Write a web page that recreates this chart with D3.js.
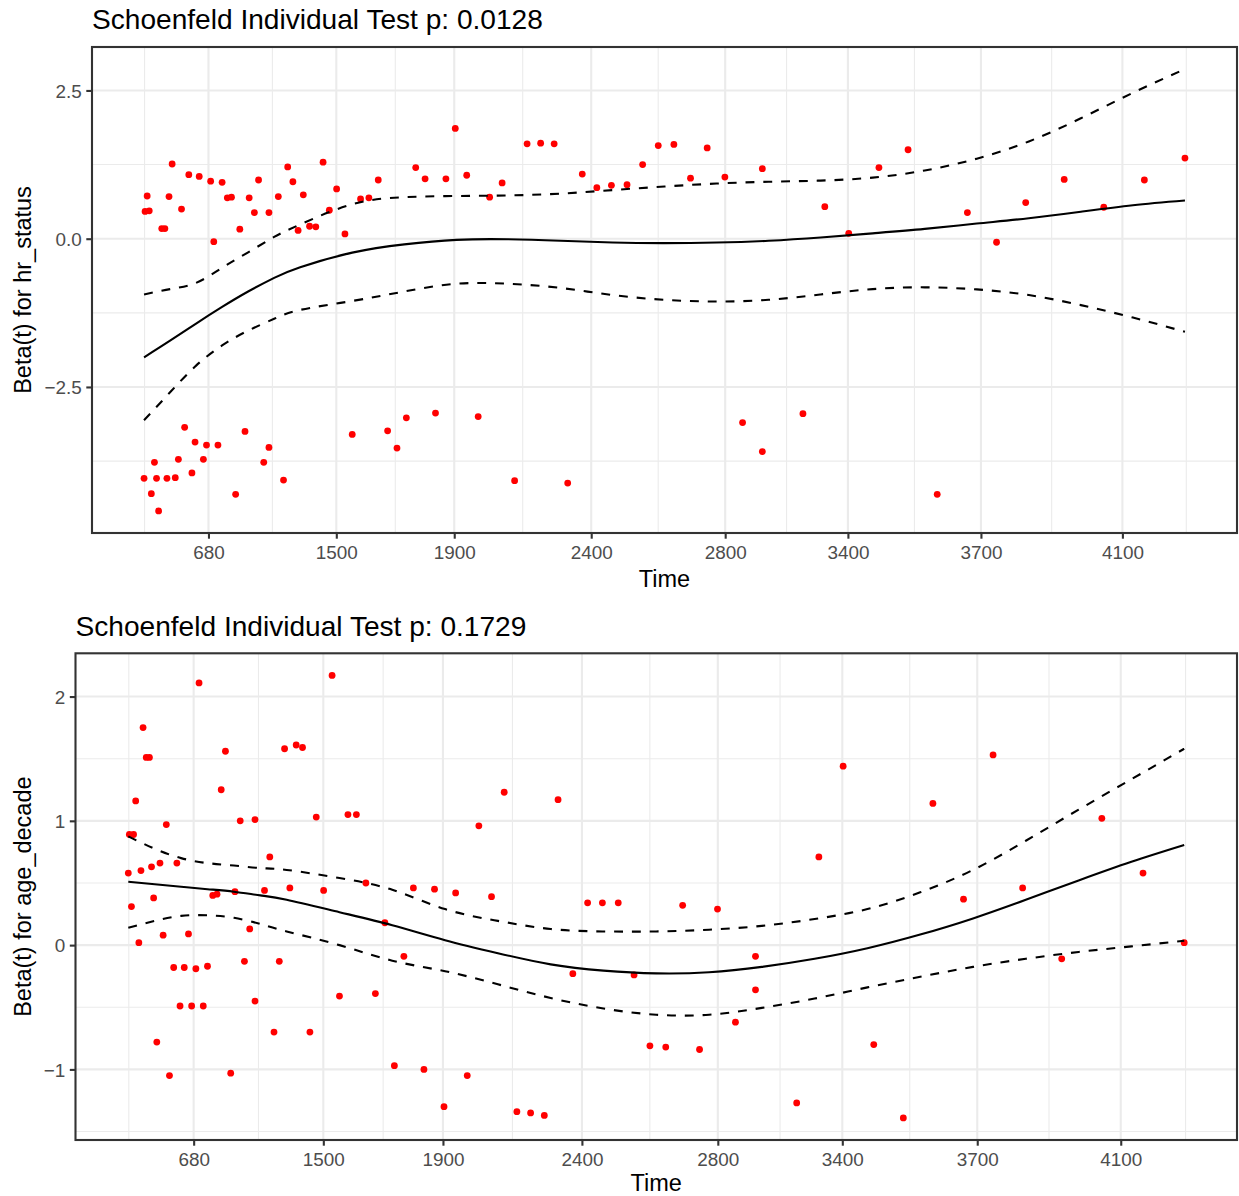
<!DOCTYPE html>
<html>
<head>
<meta charset="utf-8">
<script src="https://cdn.jsdelivr.net/npm/d3@7"></script>
<style>
  body { margin: 0; background: #ffffff; }
  svg { display: block; }
  text { font-family: "Liberation Sans", Arial, Helvetica, sans-serif; }
</style>
</head>
<body>
<svg id="chart" width="1239" height="1196"></svg>
<script>
// ---------------- DATA ----------------
// Event times on the transformed (KM) time scale, one per event, shared by both covariates
const eventTime = [
  0.000, 0.001, 0.003, 0.005, 0.007, 0.010, 0.012, 0.014, 0.017, 0.020,
  0.022, 0.024, 0.027, 0.030, 0.033, 0.036, 0.039, 0.043, 0.046, 0.049,
  0.053, 0.057, 0.060, 0.064, 0.067, 0.071, 0.075, 0.080, 0.084, 0.088,
  0.092, 0.097, 0.101, 0.106, 0.110, 0.115, 0.120, 0.120, 0.129, 0.134,
  0.138, 0.143, 0.148, 0.153, 0.159, 0.165, 0.172, 0.178, 0.185, 0.193,
  0.200, 0.208, 0.216, 0.225, 0.234, 0.243, 0.252, 0.261, 0.270, 0.280,
  0.290, 0.299, 0.310, 0.321, 0.332, 0.344, 0.356, 0.368, 0.381, 0.394,
  0.407, 0.421, 0.435, 0.449, 0.464, 0.479, 0.494, 0.509, 0.525, 0.541,
  0.558, 0.575, 0.594, 0.594, 0.633, 0.654, 0.677, 0.706, 0.734, 0.762,
  0.791, 0.819, 0.847, 0.884, 0.922, 0.961, 1.000
];

// Scaled Schoenfeld residuals, hr_status
const hrStatusResid = [
  -4.04, 0.46, 0.72, 0.47, -4.30, -3.77, -4.04, -4.59, 0.17, 0.17,
  -4.04, 0.71, 1.26, -4.03, -3.72, 0.50, -3.18, 1.08, -3.95, -3.43,
  1.05, -3.72, -3.48, 0.97, -0.05, -3.48, 0.95, 0.69, 0.70, -4.31,
  0.16, -3.25, 0.69, 0.44, 0.99, -3.77, 0.44, -3.52, 0.71, -4.07,
  1.21, 0.96, 0.14, 0.74, 0.21, 0.20, 1.29, 0.48, 0.84, 0.08,
  -3.30, 0.67, 0.69, 0.99, -3.24, -3.53, -3.02, 1.20, 1.01, -2.94,
  1.01, 1.86, 1.07, -3.00, 0.70, 0.94, -4.08, 1.60, 1.61, 1.60,
  -4.12, 1.09, 0.86, 0.90, 0.91, 1.25, 1.57, 1.59, 1.02, 1.53,
  1.04, -3.10, 1.18, -3.59, -2.95, 0.54, 0.09, 1.20, 1.50, -4.31,
  0.44, -0.06, 0.61, 1.00, 0.53, 0.99, 1.36
];

// Scaled Schoenfeld residuals, age_decade
const ageDecadeResid = [
  0.58, 0.89, 0.31, 0.89, 1.16, 0.02, 0.60, 1.75, 1.51, 1.51,
  0.63, 0.38, -0.78, 0.66, 0.08, 0.97, -1.05, -0.18, 0.66, -0.49,
  -0.18, 0.09, -0.49, -0.19, 2.11, -0.49, -0.17, 0.40, 0.41, 1.25,
  1.56, -1.03, 0.43, 1.00, -0.13, 0.13, 1.01, -0.45, 0.44, 0.71,
  -0.70, -0.13, 1.58, 0.46, 1.61, 1.59, -0.70, 1.03, 0.44, 2.17,
  -0.41, 1.05, 1.05, 0.50, -0.39, 0.18, -0.97, -0.09, 0.46, -1.00,
  0.45, -1.30, 0.42, -1.05, 0.96, 0.39, 1.23, -1.34, -1.35, -1.37,
  1.17, -0.23, 0.34, 0.34, 0.34, -0.24, -0.81, -0.82, 0.32, -0.84,
  0.29, -0.62, -0.09, -0.36, -1.27, 0.71, 1.44, -0.80, -1.39, 1.14,
  0.37, 1.53, 0.46, -0.11, 1.02, 0.58, 0.02
];

// Smoothed Beta(t) and its confidence band, read at these transformed times
const smoothTime = [0, 0.025, 0.05, 0.075, 0.1, 0.125, 0.15, 0.2, 0.25, 0.3, 0.35, 0.4,
                    0.45, 0.5, 0.55, 0.6, 0.65, 0.7, 0.75, 0.8, 0.85, 0.9, 0.95, 1.0];

const hrFit   = [-2.00, -1.72, -1.43, -1.15, -0.89, -0.66, -0.48, -0.235, -0.095, -0.02, -0.01, -0.035,
                 -0.065, -0.075, -0.065, -0.035, 0.02, 0.09, 0.165, 0.255, 0.345, 0.455, 0.565, 0.645];
const hrUpper = [-0.94, -0.85, -0.745, -0.49, -0.23, 0.03, 0.24, 0.58, 0.70, 0.72, 0.73, 0.76,
                 0.82, 0.88, 0.93, 0.96, 0.98, 1.03, 1.15, 1.35, 1.64, 2.03, 2.46, 2.86];
const hrLower = [-3.06, -2.59, -2.14, -1.80, -1.55, -1.35, -1.20, -1.05, -0.89, -0.76, -0.76, -0.83,
                 -0.95, -1.03, -1.06, -1.03, -0.94, -0.85, -0.82, -0.855, -0.95, -1.12, -1.33, -1.57];

const ageFit   = [0.51, 0.49, 0.47, 0.45, 0.43, 0.40, 0.365, 0.265, 0.16, 0.04, -0.065, -0.155,
                  -0.205, -0.227, -0.218, -0.175, -0.11, -0.025, 0.085, 0.215, 0.365, 0.52, 0.67, 0.805];
const ageUpper = [0.875, 0.775, 0.70, 0.66, 0.64, 0.62, 0.605, 0.54, 0.445, 0.29, 0.195, 0.13,
                  0.11, 0.11, 0.124, 0.155, 0.21, 0.29, 0.425, 0.605, 0.84, 1.09, 1.335, 1.58];
const ageLower = [0.14, 0.195, 0.235, 0.24, 0.22, 0.17, 0.11, 0.00, -0.125, -0.21, -0.315, -0.425,
                  -0.51, -0.56, -0.56, -0.505, -0.43, -0.34, -0.255, -0.175, -0.11, -0.055, -0.01, 0.035];

// X axis: break positions on the transformed scale and their time labels
const xTickPos    = [0.0619, 0.1847, 0.2980, 0.4296, 0.5583, 0.6762, 0.8040, 0.9399];
const xTickLabels = ["680", "1500", "1900", "2400", "2800", "3400", "3700", "4100"];

const hrYTicks  = [-2.5, 0, 2.5];
const ageYTicks = [-1, 0, 1, 2];

const panelTitles = ["Schoenfeld Individual Test p: 0.0128", "Schoenfeld Individual Test p: 0.1729"];
const yTitles = ["Beta(t) for hr_status", "Beta(t) for age_decade"];
const xTitle = "Time";

// ---------------- DRAWING ----------------
const svg = d3.select("#chart");

const GRID = "#EBEBEB";
const INK = "#333333";
const TICK_TEXT = "#4D4D4D";
const TICK_FS = 18.9, AXIS_FS = 23.5, TITLE_FS = 28.1;

function expand(ext, m = 0.05) {
  const r = ext[1] - ext[0];
  return [ext[0] - r * m, ext[1] + r * m];
}

// ggplot2-style regular minor breaks
function minorBreaks(b, limits) {
  b = b.slice();
  const bd = b[1] - b[0];
  if (limits[0] < b[0]) b.unshift(b[0] - bd);
  if (limits[1] > b[b.length - 1]) b.push(b[b.length - 1] + bd);
  const out = [];
  for (let i = 0; i < b.length - 1; i++) out.push((b[i] + b[i + 1]) / 2);
  return out.filter(v => v >= limits[0] && v <= limits[1]);
}

function drawPanel(cfg, idx) {
  const g = svg.append("g");
  const x = d3.scaleLinear()
    .domain(expand(d3.extent(eventTime.concat(smoothTime))))
    .range([cfg.left, cfg.right]);
  const allY = cfg.resid.concat(cfg.fit, cfg.upper, cfg.lower);
  const y = d3.scaleLinear()
    .domain(expand(d3.extent(allY)))
    .range([cfg.bottom, cfg.top]);

  const clipId = "clip" + idx;
  g.append("clipPath").attr("id", clipId)
    .append("rect")
    .attr("x", cfg.left).attr("y", cfg.top)
    .attr("width", cfg.right - cfg.left).attr("height", cfg.bottom - cfg.top);

  const panel = g.append("g").attr("clip-path", `url(#${clipId})`);

  // minor grid
  minorBreaks(xTickPos, x.domain()).forEach(v => {
    panel.append("line")
      .attr("x1", x(v)).attr("x2", x(v)).attr("y1", cfg.top).attr("y2", cfg.bottom)
      .attr("stroke", GRID).attr("stroke-width", 1.1);
  });
  minorBreaks(cfg.yTicks, y.domain()).forEach(v => {
    panel.append("line")
      .attr("y1", y(v)).attr("y2", y(v)).attr("x1", cfg.left).attr("x2", cfg.right)
      .attr("stroke", GRID).attr("stroke-width", 1.1);
  });
  // major grid
  xTickPos.forEach(v => {
    panel.append("line")
      .attr("x1", x(v)).attr("x2", x(v)).attr("y1", cfg.top).attr("y2", cfg.bottom)
      .attr("stroke", GRID).attr("stroke-width", 2.1);
  });
  cfg.yTicks.forEach(v => {
    panel.append("line")
      .attr("y1", y(v)).attr("y2", y(v)).attr("x1", cfg.left).attr("x2", cfg.right)
      .attr("stroke", GRID).attr("stroke-width", 2.1);
  });

  // points
  panel.append("g").selectAll("circle")
    .data(eventTime.map((t, i) => [t, cfg.resid[i]]))
    .join("circle")
    .attr("cx", d => x(d[0]))
    .attr("cy", d => y(d[1]))
    .attr("r", 3.4)
    .attr("fill", "#FF0000");

  // smooth lines
  const line = d3.line()
    .x(d => x(d[0])).y(d => y(d[1]))
    .curve(d3.curveNatural);
  const series = (arr) => smoothTime.map((t, i) => [t, arr[i]]);
  panel.append("path").attr("d", line(series(cfg.fit)))
    .attr("fill", "none").attr("stroke", "#000").attr("stroke-width", 2.1);
  [cfg.upper, cfg.lower].forEach(arr => {
    panel.append("path").attr("d", line(series(arr)))
      .attr("fill", "none").attr("stroke", "#000").attr("stroke-width", 2.1)
      .attr("stroke-dasharray", "8.9,8.9");
  });

  // border
  g.append("rect")
    .attr("x", cfg.left).attr("y", cfg.top)
    .attr("width", cfg.right - cfg.left).attr("height", cfg.bottom - cfg.top)
    .attr("fill", "none").attr("stroke", INK).attr("stroke-width", 2.1);

  // x axis
  const xAxis = d3.axisBottom(x)
    .tickValues(xTickPos)
    .tickFormat((d, i) => xTickLabels[i])
    .tickSizeInner(5.7).tickSizeOuter(0).tickPadding(4.6);
  const gx = g.append("g").attr("transform", `translate(0,${cfg.bottom})`).call(xAxis);
  gx.select(".domain").remove();
  gx.selectAll(".tick line").attr("stroke", INK).attr("stroke-width", 2.1);
  gx.selectAll(".tick text")
    .attr("fill", TICK_TEXT).attr("font-size", TICK_FS)
    .attr("font-family", "'Liberation Sans', Arial, sans-serif")
    .attr("dy", null).attr("y", 26.3);

  // y axis
  const yAxis = d3.axisLeft(y)
    .tickValues(cfg.yTicks)
    .tickFormat(cfg.yFormat)
    .tickSizeInner(5.7).tickSizeOuter(0).tickPadding(4.6);
  const gy = g.append("g").attr("transform", `translate(${cfg.left},0)`).call(yAxis);
  gy.select(".domain").remove();
  gy.selectAll(".tick line").attr("stroke", INK).attr("stroke-width", 2.1);
  gy.selectAll(".tick text")
    .attr("fill", TICK_TEXT).attr("font-size", TICK_FS)
    .attr("font-family", "'Liberation Sans', Arial, sans-serif")
    .attr("dy", null).attr("y", 6.7);

  // titles
  g.append("text")
    .attr("x", cfg.left).attr("y", cfg.titleY)
    .attr("font-size", TITLE_FS).attr("fill", "#000")
    .text(cfg.title);
  g.append("text")
    .attr("x", (cfg.left + cfg.right) / 2).attr("y", cfg.timeY)
    .attr("text-anchor", "middle")
    .attr("font-size", AXIS_FS).attr("fill", "#000")
    .text(xTitle);
  g.append("text")
    .attr("transform", `translate(30.5,${(cfg.top + cfg.bottom) / 2}) rotate(-90)`)
    .attr("text-anchor", "middle")
    .attr("font-size", AXIS_FS).attr("fill", "#000")
    .text(cfg.yTitle);
}

drawPanel({
  left: 92, right: 1237, top: 47, bottom: 533, titleY: 29, timeY: 586.5,
  resid: hrStatusResid, fit: hrFit, upper: hrUpper, lower: hrLower,
  yTicks: hrYTicks, yFormat: d3.format(".1f"),
  title: panelTitles[0], yTitle: yTitles[0]
}, 0);

drawPanel({
  left: 75.5, right: 1237, top: 653.3, bottom: 1140, titleY: 636, timeY: 1191,
  resid: ageDecadeResid, fit: ageFit, upper: ageUpper, lower: ageLower,
  yTicks: ageYTicks, yFormat: d3.format("d"),
  title: panelTitles[1], yTitle: yTitles[1]
}, 1);
</script>
</body>
</html>
